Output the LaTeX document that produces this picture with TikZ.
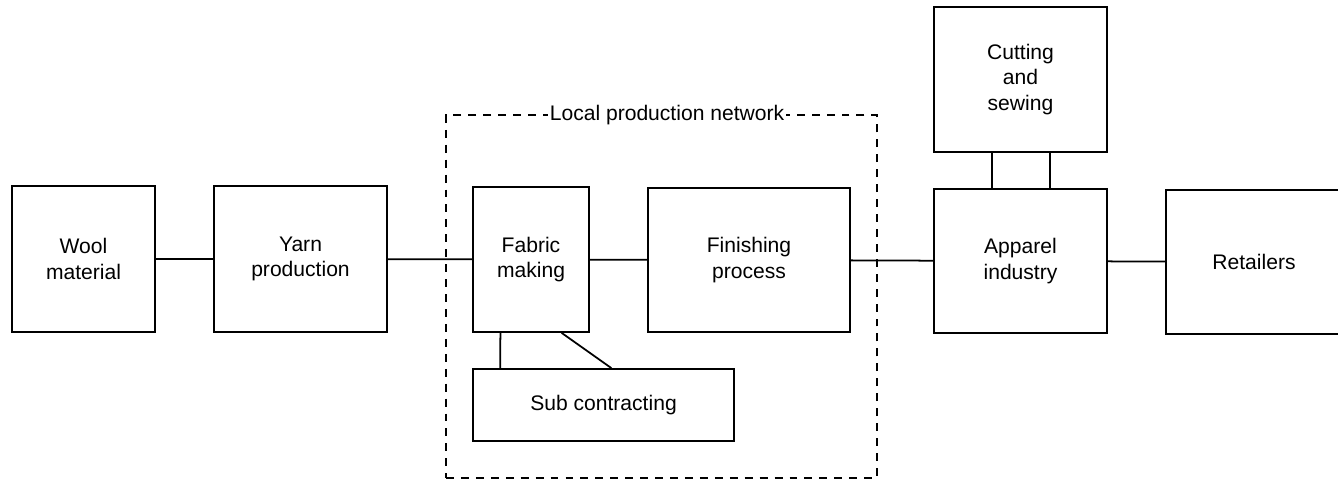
\documentclass[tikz,border=0pt]{standalone}
\usepackage{fontspec}
\setmainfont{Liberation Sans}
\usetikzlibrary{calc}
\tikzset{stage/.style={draw,line width=1pt,align=center,inner sep=0pt,font=\fontsize{12}{14.6}\selectfont},
link/.style={line width=1pt}}
\begin{document}
\begin{tikzpicture}[x=0.02cm,y=-0.02cm]
\useasboundingbox (0,0) rectangle (1338,482);
\node[draw,dashed,dash pattern=on 4.5pt off 4pt,line width=0.8pt,minimum width=8.62cm,minimum height=7.26cm] (network) at (661.5,296.5) {};
\node[fill=white,inner sep=1pt,font=\fontsize{12}{14.6}\selectfont] (netlabel) at (667,115) {Local production network};
\node[stage,minimum width=2.86cm,minimum height=2.92cm] (wool) at (83.5,259) {Wool\\material};
\node[stage,minimum width=3.46cm,minimum height=2.92cm] (yarn) at (300.5,259) {Yarn\\production};
\node[stage,minimum width=2.32cm,minimum height=2.9cm] (fabric) at (531,259.5) {Fabric\\making};
\node[stage,minimum width=4.04cm,minimum height=2.88cm] (finish) at (749,260) {Finishing\\process};
\node[stage,minimum width=5.22cm,minimum height=1.44cm] (sub) at (603.5,405) {Sub contracting};
\node[stage,minimum width=3.46cm,minimum height=2.9cm] (cutting) at (1020.5,79.5) {Cutting\\and\\sewing};
\node[stage,minimum width=3.46cm,minimum height=2.88cm] (apparel) at (1020.5,261) {Apparel\\industry};
\node[stage,minimum width=3.8cm,minimum height=2.88cm] (retail) at (1261,262) {Retailers\hspace*{0.28cm}};
\draw[link] (wool) -- (yarn);
\draw[link] (yarn) -- (fabric);
\draw[link] (fabric) -- (finish);
\draw[link] (finish) -- (apparel);
\draw[link] (apparel) -- (retail);
\draw[link] ($(fabric.south west)!0.24!(fabric.south east)$) -- ($(sub.north west)!0.107!(sub.north east)$);
\draw[link] ($(fabric.south west)!0.76!(fabric.south east)$) -- ($(sub.north west)!0.53!(sub.north east)$);
\foreach \f in {0.335,0.67}
  \draw[link] ($(apparel.north west)!\f!(apparel.north east)$) -- ($(cutting.south west)!\f!(cutting.south east)$);
\end{tikzpicture}
\end{document}
